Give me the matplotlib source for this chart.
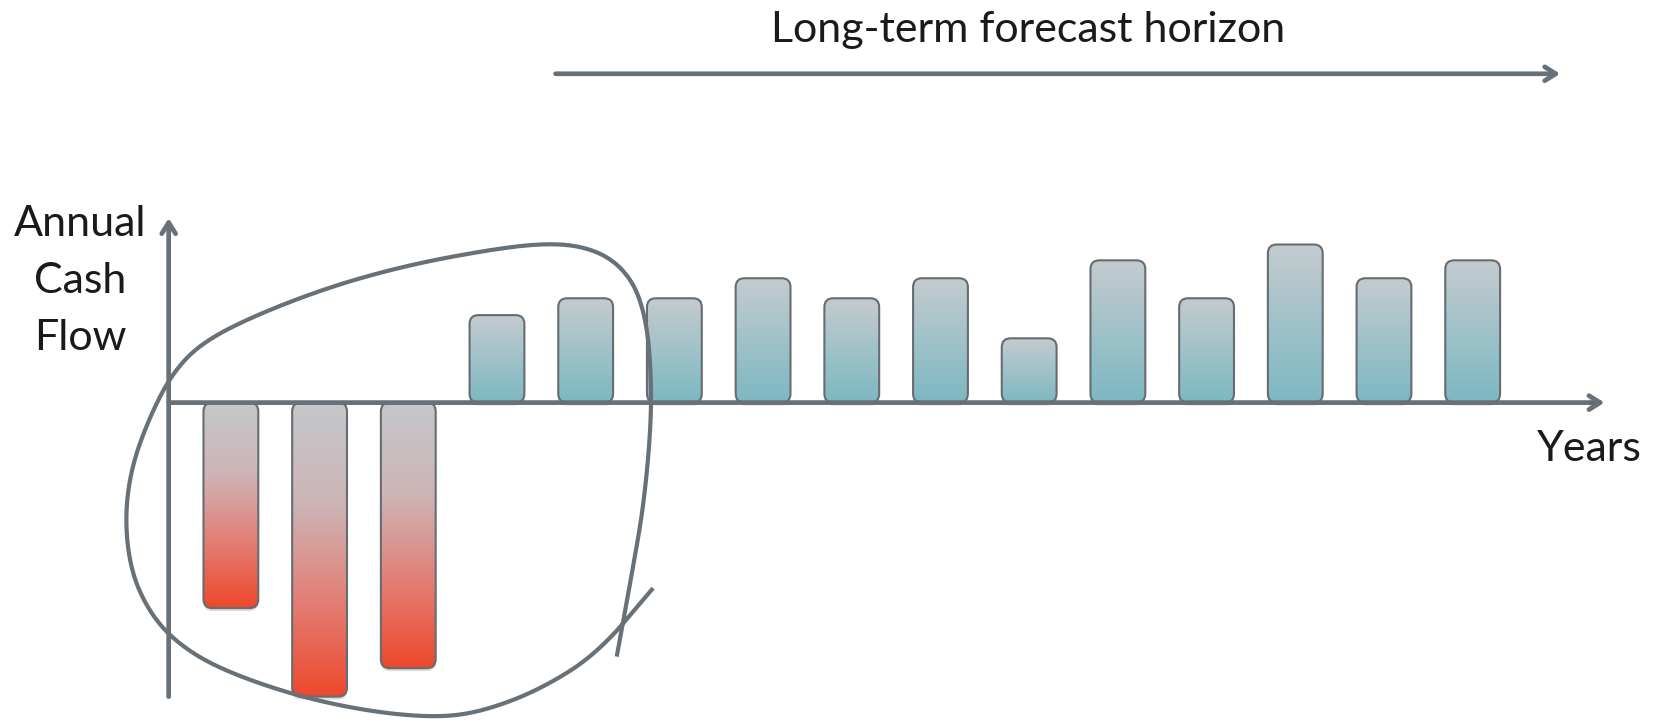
import numpy as np
import matplotlib
matplotlib.use("Agg")
import matplotlib.pyplot as plt
from matplotlib.patches import FancyBboxPatch
import matplotlib.patheffects as pe

# ---------------- data ----------------
years = list(range(1, 16))
cash_flow = [-195, -279, -252, 83, 99, 99, 118, 99, 118, 61, 135, 99, 150, 118, 135]
title_text = "Long-term forecast horizon"
y_label_lines = ["Annual", "Cash", "Flow"]
x_label = "Years"

# ---------------- style ----------------
AX_COLOR = "#687177"
EDGE = "#656d73"
GRAY_TOP = np.array([197, 203, 207])
TEAL_BOT = np.array([124, 184, 194])
NEG_STOPS = [(0.0, [196, 200, 204]), (0.35, [206, 180, 182]),
             (0.7, [228, 122, 112]), (1.0, [238, 72, 44])]
FONT = ["Lato", "DejaVu Sans"]

W, H = 1653, 723
fig = plt.figure(figsize=(W / 100, H / 100), dpi=100)
ax = fig.add_axes([0, 0, 1, 1])
ax.axis("off")
XLIM = (-1.603, 17.033)
YLIM = (-304, 382)
px_per_x = 1568 / (XLIM[1] - XLIM[0])  # shown px per year unit

bar_w = 0.618
RS = 0.10


def grad(stops, n=256):
    t = np.linspace(0, 1, n)
    pos = [s[0] for s in stops]
    cols = np.array([s[1] for s in stops], dtype=float) / 255
    out = np.stack([np.interp(t, pos, cols[:, k]) for k in range(3)], axis=-1)
    return out[:, None, :]


pos_img = grad([(0.0, GRAY_TOP), (1.0, TEAL_BOT)])
neg_img = grad(NEG_STOPS)

for x, v in zip(years, cash_flow):
    x0 = x - bar_w / 2
    y0 = min(0, v)
    h = abs(v)
    patch = FancyBboxPatch((x0, y0), bar_w, h,
                           boxstyle=f"round,pad=0,rounding_size={RS}",
                           mutation_aspect=px_per_x,
                           facecolor="none", edgecolor=EDGE, linewidth=1.5,
                           zorder=3)
    shadow = FancyBboxPatch((x0, y0), bar_w, h,
                            boxstyle=f"round,pad=0,rounding_size={RS}",
                            mutation_aspect=px_per_x,
                            facecolor="#000000", edgecolor="none", alpha=0.13,
                            zorder=1)
    shadow.set_transform(ax.transData + matplotlib.transforms.Affine2D().translate(0, -3))
    ax.add_patch(shadow)
    ax.add_patch(patch)
    img = pos_img if v > 0 else neg_img
    im = ax.imshow(img, extent=(x0, x0 + bar_w, y0, y0 + h), origin="upper",
                   aspect="auto", zorder=2, interpolation="bilinear")
    im.set_clip_path(patch)

# axes arrows (in data coords)
x_axis_start = (160 - 219) / px_per_x + 1
x_axis_end = (1522 - 219) / px_per_x + 1
arrow_kw = dict(arrowstyle="->,head_length=0.8,head_width=0.5",
                color=AX_COLOR, lw=3.4, shrinkA=0, shrinkB=0)
a1 = ax.annotate("", xy=(x_axis_end, 0), xytext=(x_axis_start, 0),
                 arrowprops=arrow_kw, zorder=4)
a1.arrow_patch.set_path_effects([pe.SimplePatchShadow(offset=(0, -2), alpha=0.2), pe.Normal()])
a2 = ax.annotate("", xy=(x_axis_start, 382 - 207), xytext=(x_axis_start, 382 - 661),
                 arrowprops=arrow_kw, zorder=4)
ax.set_xlim(*XLIM)
ax.set_ylim(*YLIM)

# ---------------- overlay in reference (shown) pixel coords ----------------
ov = fig.add_axes([0, 0, 1, 1])
ov.set_xlim(0, 1568)
ov.set_ylim(686, 0)
ov.axis("off")
ov.patch.set_alpha(0)

loop_pts = np.array([
    (619.5, 558), (567, 620), (512, 654.5), (458, 675), (414, 681), (349, 675),
    (276, 659), (204, 633), (164, 607), (140, 578), (124, 541), (118.5, 493),
    (124, 446), (140, 400), (162, 356), (190, 326), (240, 300), (313, 272),
    (385, 252), (458, 238), (512, 231), (550, 233), (580, 245), (601, 268),
    (612, 300), (617, 341), (618, 398), (611, 477), (600, 541), (585, 623)],
    dtype=float)


def chaikin(pts, iters=5):
    p = pts.copy()
    for _ in range(iters):
        q = 0.75 * p[:-1] + 0.25 * p[1:]
        r = 0.25 * p[:-1] + 0.75 * p[1:]
        mid = np.empty((2 * len(q), 2))
        mid[0::2] = q
        mid[1::2] = r
        p = np.vstack([p[:1], mid, p[-1:]])
    return p


curve = chaikin(loop_pts)
ov.plot(curve[:, 0], curve[:, 1], color=AX_COLOR, lw=3.0, solid_capstyle="butt",
        solid_joinstyle="round", zorder=5)

# top arrow
ov.annotate("", xy=(1480, 70), xytext=(527, 70),
            arrowprops=dict(arrowstyle="->,head_length=0.8,head_width=0.5",
                            color=AX_COLOR, lw=3.4, shrinkA=0, shrinkB=0))

txt_kw = dict(family=FONT, fontsize=31, color="#1a1a1a")
ov.text(975, 28, title_text, ha="center", va="center", **txt_kw)
for i, line in enumerate(y_label_lines):
    ov.text(76, 213 + i * 54, line, ha="center", va="center", **txt_kw)
ov.text(1508, 426, x_label, ha="center", va="center", **txt_kw)

fig.savefig("out.png", dpi=100)
